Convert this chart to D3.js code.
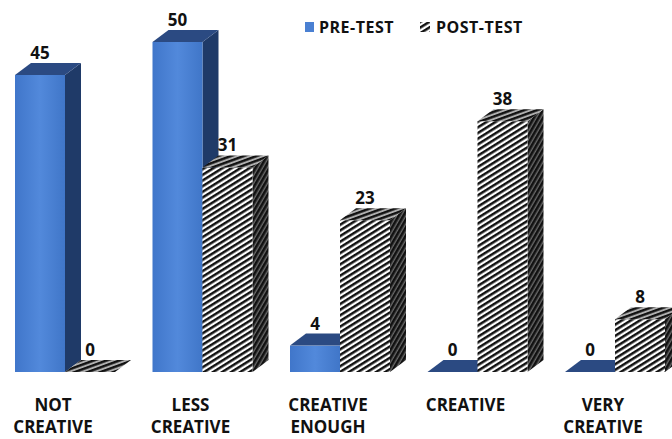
<!DOCTYPE html>
<html>
<head>
<meta charset="utf-8">
<script src="https://cdn.jsdelivr.net/npm/d3@7"></script>
<style>
  body { margin: 0; background: #fff; }
  text { font-family: "Open Sans", "DejaVu Sans", sans-serif; font-weight: bold; fill: #111; }
</style>
</head>
<body>
<div id="chart"></div>
<script>
const categories = [["NOT", "CREATIVE"], ["LESS", "CREATIVE"], ["CREATIVE", "ENOUGH"], ["CREATIVE"], ["VERY", "CREATIVE"]];
const series = ["PRE-TEST", "POST-TEST"];
const preTest = [45, 50, 4, 0, 0];
const postTest = [0, 31, 23, 38, 8];

const width = 672, height = 439;
const depthX = 16, depthY = 12;

const svg = d3.select("#chart").append("svg")
    .attr("width", width)
    .attr("height", height);

const defs = svg.append("defs");

function stripes(id, angle, dark, light, period) {
    const p = defs.append("pattern")
        .attr("id", id)
        .attr("patternUnits", "userSpaceOnUse")
        .attr("width", period)
        .attr("height", period)
        .attr("patternTransform", `rotate(${angle})`);
    p.append("rect").attr("width", period).attr("height", period).attr("fill", light);
    p.append("rect").attr("width", period).attr("height", dark).attr("fill", "#111");
}
stripes("hatchFront", -32, 2.5, "#fff", 4.8);
stripes("hatchSide", -60, 2.6, "#6a6a6a", 4);
stripes("hatchTop", -20, 2.4, "#b0b0b0", 4.4);

const blueGrad = defs.append("linearGradient").attr("id", "blueFront");
blueGrad.append("stop").attr("offset", "0%").attr("stop-color", "#4076ca");
blueGrad.append("stop").attr("offset", "50%").attr("stop-color", "#5289db");
blueGrad.append("stop").attr("offset", "100%").attr("stop-color", "#4076c8");

const x = d3.scaleBand()
    .domain(d3.range(categories.length))
    .range([15, 15 + 137.5 * categories.length])
    .paddingInner(0)
    .paddingOuter(0);

const xs = d3.scaleBand()
    .domain(series)
    .range([0, 100]);

const y = d3.scaleLinear()
    .domain([0, 50])
    .range([372, 42]);

const colors = {
    "PRE-TEST": { front: "url(#blueFront)", side: "#1f3a68", top: "#2b4a82" },
    "POST-TEST": { front: "url(#hatchFront)", side: "url(#hatchSide)", top: "url(#hatchTop)" }
};

const bars = [];
categories.forEach((c, i) => {
    bars.push({ i, s: "PRE-TEST", v: preTest[i] });
    bars.push({ i, s: "POST-TEST", v: postTest[i] });
});

const g = svg.append("g");
const bw = xs.bandwidth();

const bar = g.selectAll(".bar")
    .data(bars)
    .enter().append("g")
    .attr("class", "bar");

// side face
bar.append("path")
    .attr("fill", d => colors[d.s].side)
    .attr("d", d => {
        const x1 = x(d.i) + xs(d.s) + bw, y0 = y(0), y1 = y(d.v);
        return `M${x1},${y0}L${x1 + depthX},${y0 - depthY}L${x1 + depthX},${y1 - depthY}L${x1},${y1}Z`;
    });

// front face
bar.append("rect")
    .attr("x", d => x(d.i) + xs(d.s))
    .attr("y", d => y(d.v))
    .attr("width", bw)
    .attr("height", d => y(0) - y(d.v))
    .attr("fill", d => colors[d.s].front);

// top face
bar.append("path")
    .attr("fill", d => colors[d.s].top)
    .attr("d", d => {
        const x0 = x(d.i) + xs(d.s), y1 = y(d.v);
        return `M${x0},${y1}L${x0 + bw},${y1}L${x0 + bw + depthX},${y1 - depthY}L${x0 + depthX},${y1 - depthY}Z`;
    });

// value labels
bar.append("text")
    .attr("x", d => x(d.i) + xs(d.s) + bw / 2)
    .attr("y", d => y(d.v) - depthY - 4)
    .attr("text-anchor", "middle")
    .style("font-size", "17px")
    .text(d => d.v);

// category labels
const cat = g.selectAll(".cat")
    .data(categories)
    .enter().append("text")
    .attr("class", "cat")
    .attr("text-anchor", "middle")
    .attr("x", (d, i) => x(i) + 38)
    .attr("y", 411)
    .style("font-size", "17px");

cat.selectAll("tspan")
    .data(d => d)
    .enter().append("tspan")
    .attr("x", function() { return d3.select(this.parentNode).attr("x"); })
    .attr("dy", (d, j) => j === 0 ? 0 : 22)
    .text(d => d);

// legend
const legend = svg.append("g");
legend.append("rect").attr("x", 305).attr("y", 22).attr("width", 9).attr("height", 10).attr("fill", "#4a80d2");
legend.append("text").attr("x", 319).attr("y", 33).style("font-size", "16px").style("letter-spacing", "0.5px").text(series[0]);
legend.append("rect").attr("x", 420).attr("y", 22).attr("width", 10).attr("height", 10).attr("fill", "url(#hatchFront)");
legend.append("text").attr("x", 436).attr("y", 33).style("font-size", "16px").style("letter-spacing", "0.5px").text(series[1]);
</script>
</body>
</html>
